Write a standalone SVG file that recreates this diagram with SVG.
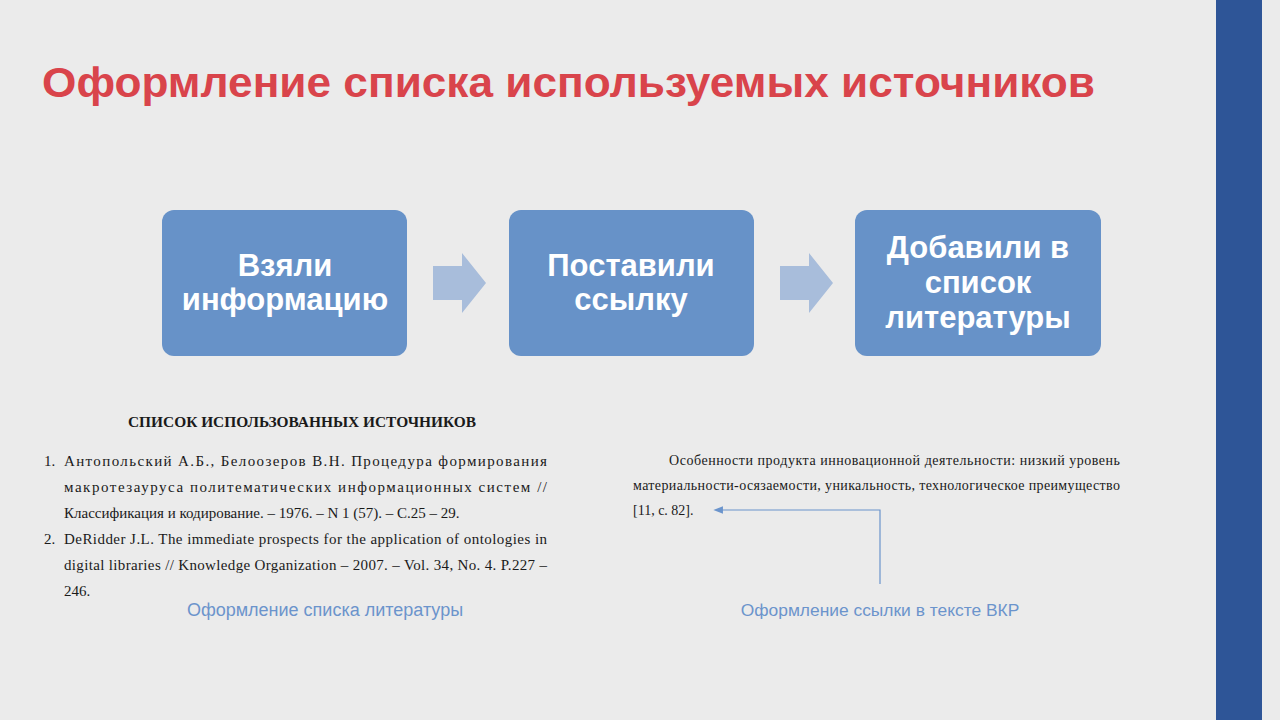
<svg xmlns="http://www.w3.org/2000/svg" width="1280" height="720" viewBox="0 0 1280 720">
<defs>
<style>
.title{font-family:"Liberation Sans",Arial,sans-serif;font-weight:bold;font-size:43px;fill:#d9444b}
.box{fill:#6792c8}
.bt{font-family:"Liberation Sans",Arial,sans-serif;font-weight:bold;font-size:31px;fill:#ffffff;text-anchor:middle}
.arr{fill:#a8bddb}
.doc{font-family:"Liberation Serif","Times New Roman",serif;font-size:15px;fill:#1a1a1a}
.head{font-size:15.4px;font-weight:bold;text-anchor:middle}
.cit{font-size:14px}
.cap{font-family:"Liberation Sans",Arial,sans-serif;font-size:18px;fill:#6b94cc;text-anchor:middle}
.cap2{font-size:17.4px}
.link{stroke:#6b94cc;stroke-width:1.2;fill:none}
</style>
<marker id="ah" viewBox="0 0 10 10" refX="1" refY="5" markerWidth="8" markerHeight="8" orient="auto-start-reverse">
<path d="M0,1 L10,5 L0,9 z" fill="#6b94cc"/>
</marker>
</defs>
<rect width="1280" height="720" fill="#ebebeb"/>
<rect x="1216" y="0" width="46" height="720" fill="#2e5597"/>
<text class="title" x="42" y="97" textLength="1053" lengthAdjust="spacingAndGlyphs">Оформление списка используемых источников</text>

<g id="node1">
<rect class="box" x="162" y="210" width="245" height="146" rx="12"/>
<text class="bt" x="285" y="276">Взяли</text>
<text class="bt" x="285" y="310">информацию</text>
</g>
<g id="node2">
<rect class="box" x="509" y="210" width="245" height="146" rx="12"/>
<text class="bt" x="631" y="276">Поставили</text>
<text class="bt" x="631" y="310">ссылку</text>
</g>
<g id="node3">
<rect class="box" x="855" y="210" width="246" height="146" rx="12"/>
<text class="bt" x="978" y="258">Добавили в</text>
<text class="bt" x="978" y="293">список</text>
<text class="bt" x="978" y="328">литературы</text>
</g>
<g id="connectors">
<path class="arr" d="M433,266 H462 V253 L486,283 L462,313 V300 H433 z"/>
<path class="arr" d="M780,266 H809 V253 L833,283 L809,313 V300 H780 z"/>
<path class="link" d="M880,584 V510 H722" marker-end="url(#ah)"/>
</g>

<g id="bibliography">
<text class="doc head" x="302" y="427">СПИСОК ИСПОЛЬЗОВАННЫХ ИСТОЧНИКОВ</text>
<text class="doc" x="44" y="466">1.</text>
<text class="doc" x="64" y="466" textLength="483" lengthAdjust="spacing">Антопольский А.Б., Белоозеров В.Н. Процедура формирования</text>
<text class="doc" x="64" y="492" textLength="483" lengthAdjust="spacing">макротезауруса политематических информационных систем //</text>
<text class="doc" x="64" y="518">Классификация и кодирование. – 1976. – N 1 (57). – С.25 – 29.</text>
<text class="doc" x="44" y="544">2.</text>
<text class="doc" x="64" y="544" textLength="483" lengthAdjust="spacing">DeRidder J.L. The immediate prospects for the application of ontologies in</text>
<text class="doc" x="64" y="570" textLength="483" lengthAdjust="spacing">digital libraries // Knowledge Organization – 2007. – Vol. 34, No. 4. P.227 –</text>
<text class="doc" x="64" y="596">246.</text>
<text class="cap" x="325" y="616">Оформление списка литературы</text>
</g>

<g id="citation">
<text class="doc cit" x="669" y="465" textLength="451" lengthAdjust="spacing">Особенности продукта инновационной деятельности: низкий уровень</text>
<text class="doc cit" x="633" y="490" textLength="487" lengthAdjust="spacing">материальности-осязаемости, уникальность, технологическое преимущество</text>
<text class="doc cit" x="633" y="515">[11, с. 82].</text>
<text class="cap cap2" x="880" y="616">Оформление ссылки в тексте ВКР</text>
</g>
</svg>
